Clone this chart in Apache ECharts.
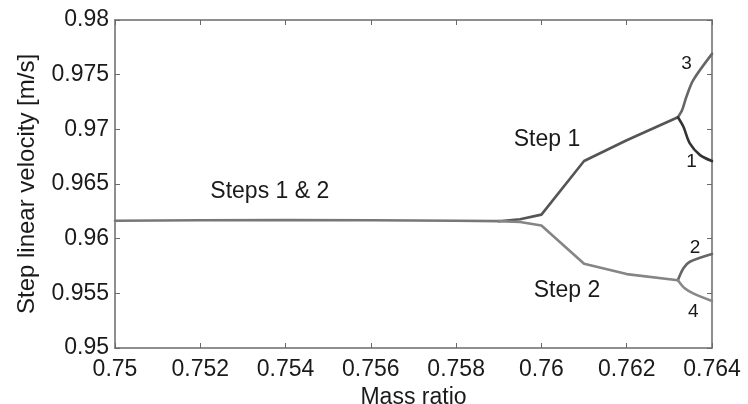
<!DOCTYPE html>
<html>
<head>
<meta charset="utf-8">
<script src="https://cdn.jsdelivr.net/npm/echarts@6/dist/echarts.min.js"></script>
<style>
  html, body { margin: 0; padding: 0; background: #fff; }
  #chart { width: 748px; height: 404px; }
</style>
</head>
<body>
<div id="chart"></div>
<script>
// Bifurcation of step velocity with mass ratio
const xTicks = [0.75, 0.752, 0.754, 0.756, 0.758, 0.76, 0.762, 0.764];
const yTicks = [0.95, 0.955, 0.96, 0.965, 0.97, 0.975, 0.98];

// Common branch (steps 1 & 2 identical)
const massBoth = [0.75, 0.752, 0.754, 0.756, 0.758, 0.759];
const velBoth  = [0.96164, 0.96169, 0.9617, 0.96168, 0.96164, 0.9616];

// Step 1 after first split
const massStep1 = [0.759, 0.7595, 0.760, 0.761, 0.762, 0.7632];
const velStep1  = [0.9616, 0.96178, 0.9622, 0.9671, 0.9690, 0.9711];

// Step 2 after first split
const massStep2 = [0.759, 0.7595, 0.760, 0.761, 0.762, 0.7632];
const velStep2  = [0.9616, 0.96152, 0.9612, 0.9577, 0.95676, 0.9562];

// Second split of step 1 -> branches 3 and 1
const massB3 = [0.7632, 0.7633, 0.7634, 0.76356, 0.764];
const velB3  = [0.9711, 0.97176, 0.97298, 0.9745, 0.9769];
const massB1 = [0.7632, 0.76333, 0.76348, 0.76372, 0.764];
const velB1  = [0.9711, 0.97023, 0.96871, 0.96764, 0.9671];

// Second split of step 2 -> branches 2 and 4
const massB2 = [0.7632, 0.76333, 0.76348, 0.764];
const velB2  = [0.9562, 0.95729, 0.95789, 0.9586];
const massB4 = [0.7632, 0.76336, 0.76356, 0.764];
const velB4  = [0.9562, 0.95546, 0.955, 0.9543];

// Text annotations placed in data coordinates
const noteText = ['Steps 1 & 2', 'Step 1', 'Step 2'];
const noteMass = [0.75363, 0.76013, 0.76060];
const noteVel  = [0.96426, 0.96910, 0.95520];
const branchText = ['3', '1', '2', '4'];
const branchMass = [0.7634, 0.76352, 0.7636, 0.76356];
const branchVel  = [0.97602, 0.96703, 0.95914, 0.95332];

const FONT = 'Liberation Sans, Arial, sans-serif';
const TXT = '#1a1a1a';
const AXC = '#6a6a6a';

function pairs(xs, ys) { return xs.map((x, i) => [x, ys[i]]); }

function curve(xs, ys, color, smooth) {
  return {
    type: 'line', data: pairs(xs, ys), showSymbol: false, symbol: 'none',
    smooth: smooth || false,
    lineStyle: { color: color, width: 2.6, cap: 'round', join: 'round' },
    silent: true, animation: false, z: 3
  };
}

function notes(names, xs, ys, size) {
  return {
    type: 'scatter', symbolSize: 0, silent: true, animation: false, z: 5,
    itemStyle: { opacity: 1 },
    data: names.map((n, i) => ({ name: n, value: [xs[i], ys[i]] })),
    label: {
      show: true, position: 'inside', formatter: '{b}',
      fontFamily: FONT, fontSize: size, color: TXT
    }
  };
}

const xMin = xTicks[0], xMax = xTicks[xTicks.length - 1];
const yMin = yTicks[0], yMax = yTicks[yTicks.length - 1];

const baseAxisLine = { show: true, lineStyle: { color: AXC, width: 1.5 } };
const innerTick = { show: true, inside: true, length: 5, lineStyle: { color: AXC, width: 1 } };

const chart = echarts.init(document.getElementById('chart'), null, { renderer: 'canvas' });
chart.setOption({
  animation: false,
  backgroundColor: '#ffffff',
  grid: {
    left: 115, right: 36, top: 20, bottom: 56,
    containLabel: false, outerBoundsMode: 'none'
  },
  xAxis: [
    {
      type: 'value', min: xMin, max: xMax, interval: 0.002, position: 'bottom',
      axisLine: baseAxisLine, axisTick: innerTick, splitLine: { show: false },
      axisLabel: { fontFamily: FONT, fontSize: 23, color: TXT, margin: 10 },
      name: 'Mass ratio', nameLocation: 'middle', nameGap: 36,
      nameTextStyle: { fontFamily: FONT, fontSize: 23, color: TXT }
    },
    {
      type: 'value', min: xMin, max: xMax, interval: 0.002, position: 'top',
      axisLine: baseAxisLine, axisTick: innerTick, splitLine: { show: false },
      axisLabel: { show: false }
    }
  ],
  yAxis: [
    {
      type: 'value', min: yMin, max: yMax, interval: 0.005, position: 'left',
      axisLine: baseAxisLine, axisTick: innerTick, splitLine: { show: false },
      axisLabel: { fontFamily: FONT, fontSize: 23, color: TXT, margin: 6 },
      name: 'Step linear velocity [m/s]', nameLocation: 'middle', nameGap: 76,
      nameRotate: 90,
      nameTextStyle: { fontFamily: FONT, fontSize: 24, color: TXT }
    },
    {
      type: 'value', min: yMin, max: yMax, interval: 0.005, position: 'right',
      axisLine: baseAxisLine, axisTick: innerTick, splitLine: { show: false },
      axisLabel: { show: false }
    }
  ],
  series: [
    curve(massBoth, velBoth, '#777777'),
    curve(massStep1, velStep1, '#555555'),
    curve(massStep2, velStep2, '#858585'),
    curve(massB3, velB3, '#666666', 0.3),
    curve(massB1, velB1, '#333333', 0.3),
    curve(massB2, velB2, '#666666', 0.3),
    curve(massB4, velB4, '#888888', 0.3),
    notes(noteText, noteMass, noteVel, 23),
    notes(branchText, branchMass, branchVel, 19)
  ]
});
</script>
</body>
</html>
